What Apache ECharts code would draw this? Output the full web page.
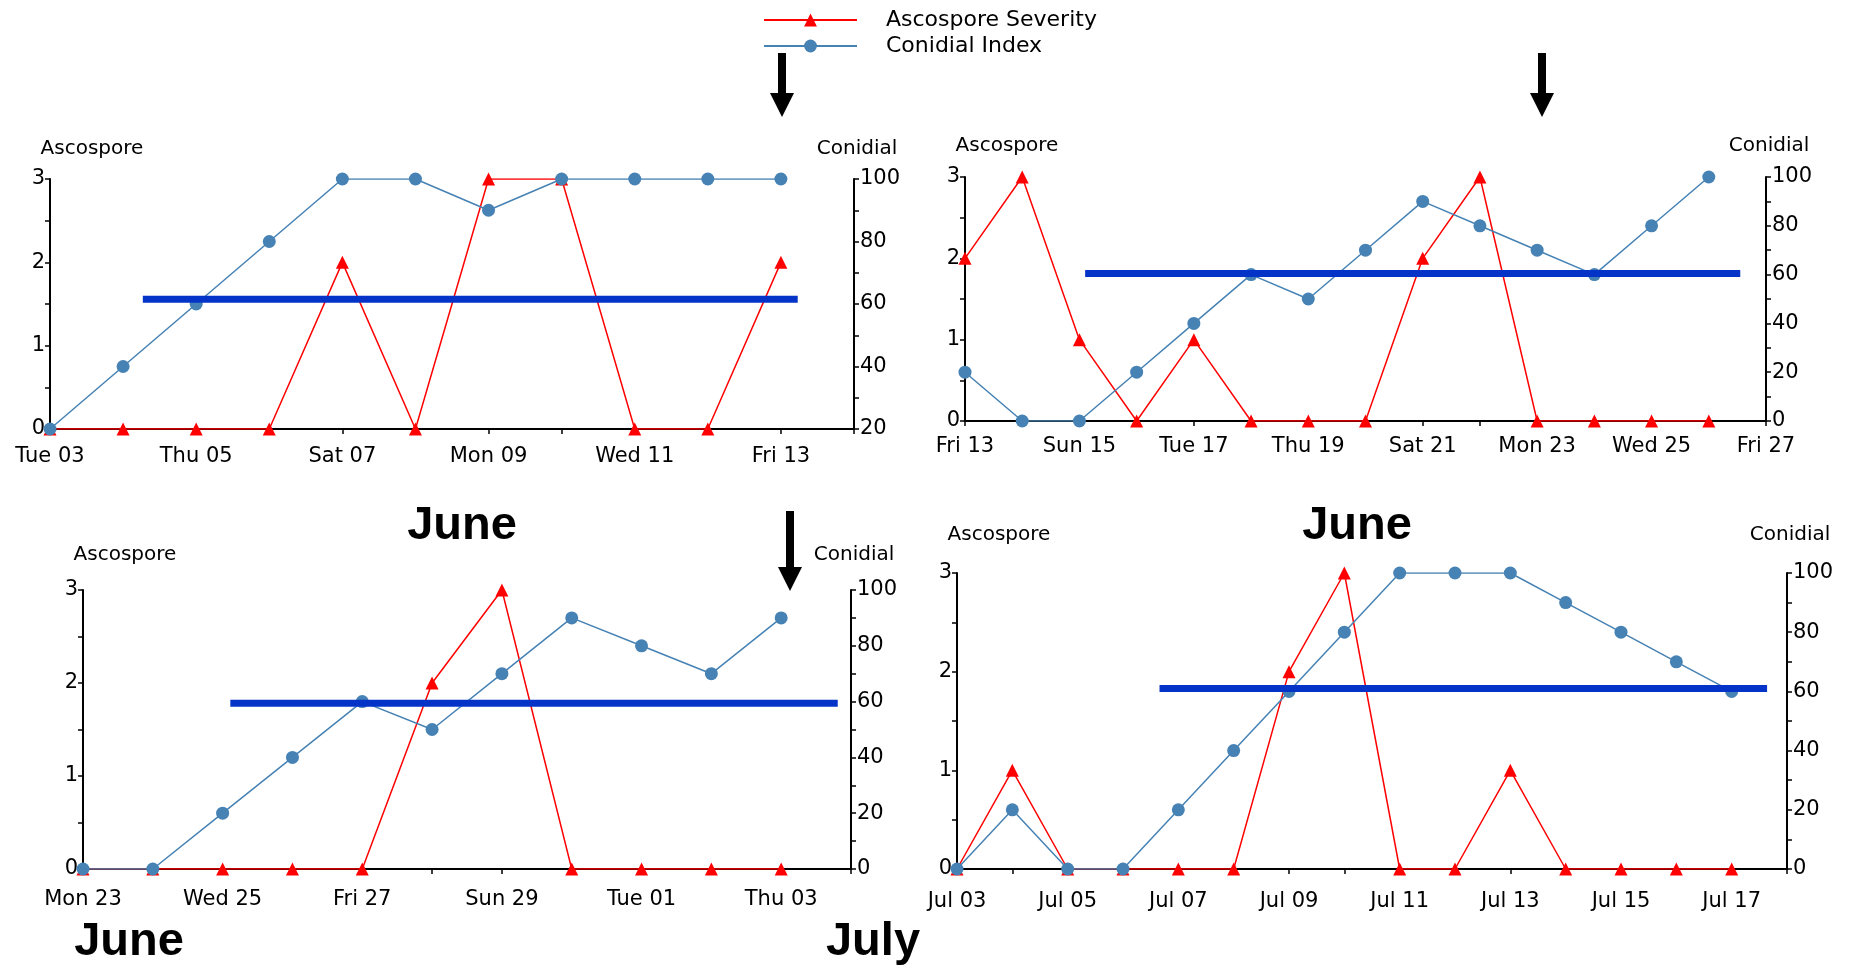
<!DOCTYPE html>
<html><head><meta charset="utf-8">
<script src="https://cdn.jsdelivr.net/npm/echarts@6/dist/echarts.min.js"></script>
<style>html,body{margin:0;padding:0;background:#fff}#c{width:1849px;height:966px}</style>
</head><body><div id="c"></div><script>
// ---- data ----
const days1 = ['Tue 03','Wed 04','Thu 05','Fri 06','Sat 07','Sun 08','Mon 09','Tue 10','Wed 11','Thu 12','Fri 13','Sat 14'];
const asco1 = [0,0,0,0,2,0,3,3,0,0,2];
const coni1 = [20,40,60,80,100,100,90,100,100,100,100];

const days2 = ['Fri 13','Sat 14','Sun 15','Mon 16','Tue 17','Wed 18','Thu 19','Fri 20','Sat 21','Sun 22','Mon 23','Tue 24','Wed 25','Thu 26','Fri 27'];
const asco2 = [2,3,1,0,1,0,0,0,2,3,0,0,0,0];
const coni2 = [20,0,0,20,40,60,50,70,90,80,70,60,80,100];

const days3 = ['Mon 23','Tue 24','Wed 25','Thu 26','Fri 27','Sat 28','Sun 29','Mon 30','Tue 01','Wed 02','Thu 03','Fri 04'];
const asco3 = [0,0,0,0,0,2,3,0,0,0,0];
const coni3 = [0,0,20,40,60,50,70,90,80,70,90];

const days4 = ['Jul 03','Jul 04','Jul 05','Jul 06','Jul 07','Jul 08','Jul 09','Jul 10','Jul 11','Jul 12','Jul 13','Jul 14','Jul 15','Jul 16','Jul 17','Jul 18'];
const asco4 = [0,1,0,0,0,0,2,3,0,0,1,0,0,0,0];
const coni4 = [0,20,0,0,20,40,60,80,100,100,100,90,80,70,60];

const conidialMin = [20, 0, 0, 0];
// hand-drawn threshold bar: [start index, end index, conidial value]
const threshold1 = [1.27, 10.23, 61.5];
const threshold2 = [2.10, 13.55, 60.4];
const threshold3 = [2.11, 10.81, 59.4];
const threshold4 = [3.66, 14.64, 61];

const monthLabels = ['June', 'June', 'June', 'July'];
const seriesNames = ['Ascospore Severity', 'Conidial Index'];

// ---- layout / style ----
const FONT = 'DejaVu Sans';
const grids = [
  {left: 50, right: 995, top: 179, bottom: 537},
  {left: 965, right: 83, top: 177, bottom: 545},
  {left: 83, right: 998, top: 590, bottom: 97},
  {left: 957, right: 62, top: 573, bottom: 97}
];
const nameGaps = [30, 31, 35, 38];
const xLabelMargins = [17, 15, 20, 22];
const charts = [
  {days: days1, asco: asco1, coni: coni1, thr: threshold1},
  {days: days2, asco: asco2, coni: coni2, thr: threshold2},
  {days: days3, asco: asco3, coni: coni3, thr: threshold3},
  {days: days4, asco: asco4, coni: coni4, thr: threshold4}
];

const xAxis = [], yAxis = [], series = [];
charts.forEach((c, i) => {
  xAxis.push({
    type: 'category', gridIndex: i, data: c.days, boundaryGap: false,
    axisLine: {lineStyle: {color: '#000', width: 2}},
    axisTick: {show: true, interval: 0, length: 5, lineStyle: {color: '#000', width: 1.5}},
    axisLabel: {interval: 1, color: '#000', fontFamily: FONT, fontSize: 21, margin: xLabelMargins[i]},
    splitLine: {show: false}
  });
  yAxis.push({
    type: 'value', gridIndex: i, position: 'left', min: 0, max: 3, interval: 0.5,
    name: 'Ascospore', nameLocation: 'end', nameGap: nameGaps[i],
    nameTextStyle: {color: '#000', fontFamily: FONT, fontSize: 20, align: 'center', verticalAlign: 'middle', padding: [0, 0, 0, 84]},
    axisLine: {show: true, lineStyle: {color: '#000', width: 2}},
    axisTick: {show: true, length: 5, lineStyle: {color: '#000', width: 1.5}},
    axisLabel: {color: '#000', fontFamily: FONT, fontSize: 21, margin: 5,
      formatter: v => Number.isInteger(v) ? String(v) : ''},
    splitLine: {show: false}
  });
  yAxis.push({
    type: 'value', gridIndex: i, position: 'right', min: conidialMin[i], max: 100, interval: 10,
    name: 'Conidial', nameLocation: 'end', nameGap: nameGaps[i],
    nameTextStyle: {color: '#000', fontFamily: FONT, fontSize: 20, align: 'center', verticalAlign: 'middle', padding: [0, 0, 0, 6]},
    axisLine: {show: true, lineStyle: {color: '#000', width: 2}},
    axisTick: {show: true, length: 5, lineStyle: {color: '#000', width: 1.5}},
    axisLabel: {color: '#000', fontFamily: FONT, fontSize: 21, margin: 6,
      formatter: v => v % 20 === 0 ? String(v) : ''},
    splitLine: {show: false}
  });
  series.push({
    name: seriesNames[0], type: 'line', xAxisIndex: i, yAxisIndex: 2 * i,
    data: c.asco, symbol: 'triangle', symbolSize: 13, showAllSymbol: true,
    itemStyle: {color: '#ff0000'}, lineStyle: {color: '#ff0000', width: 1.5}, z: 3
  });
  series.push({
    name: seriesNames[1], type: 'line', xAxisIndex: i, yAxisIndex: 2 * i + 1,
    data: c.coni, symbol: 'circle', symbolSize: 13, showAllSymbol: true,
    itemStyle: {color: '#4682b4'}, lineStyle: {color: '#4682b4', width: 1.5}, z: 4
  });
});
// hidden value x-axes aligned with the category axes, for the threshold bars
charts.forEach((c, i) => {
  xAxis.push({type: 'value', gridIndex: i, min: 0, max: c.days.length - 1, show: false});
  series.push({
    name: 'Threshold', type: 'line', xAxisIndex: 4 + i, yAxisIndex: 2 * i + 1,
    data: [[c.thr[0], c.thr[2]], [c.thr[1], c.thr[2]]], symbol: 'none',
    lineStyle: {color: '#0433c8', width: 7}, z: 6, silent: true
  });
});

function arrow(cx, top, headBase, tip) {
  return {
    type: 'polygon', z: 100,
    shape: {points: [[cx - 4, top], [cx + 4, top], [cx + 4, headBase], [cx + 12, headBase], [cx, tip], [cx - 12, headBase], [cx - 4, headBase]]},
    style: {fill: '#000'}
  };
}
function month(text, x, y) {
  return {type: 'text', x: x, y: y, z: 100,
    style: {text: text, fill: '#000', font: 'bold 47px "Liberation Sans", Arial, sans-serif', align: 'center', verticalAlign: 'middle'}};
}

const option = {
  animation: false,
  backgroundColor: '#fff',
  grid: grids,
  xAxis: xAxis,
  yAxis: yAxis,
  legend: {
    data: seriesNames, orient: 'vertical', left: 758, top: 4,
    itemWidth: 93, itemHeight: 16, itemGap: 4,
    textStyle: {color: '#000', fontFamily: FONT, fontSize: 22, padding: [0, 0, 0, 24]}
  },
  series: series,
  graphic: [
    arrow(782, 53, 93, 117),
    arrow(1542, 53, 93, 117),
    arrow(790, 511, 567, 591),
    month(monthLabels[0], 462, 526),
    month(monthLabels[1], 1357, 526),
    month(monthLabels[2], 129, 942),
    month(monthLabels[3], 873, 942)
  ]
};
const chart = echarts.init(document.getElementById('c'));
chart.setOption(option);
</script></body></html>
